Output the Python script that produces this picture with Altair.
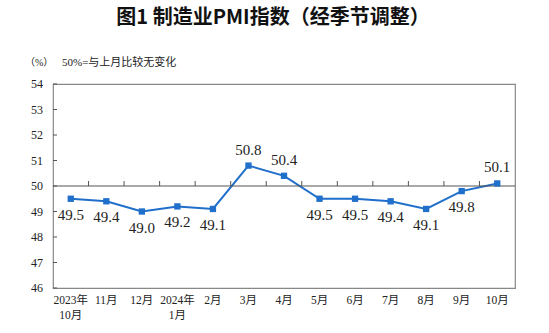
import altair as alt
import pandas as pd

categories = ["2023年\n10月", "11月", "12月", "2024年\n1月", "2月", "3月", "4月",
              "5月", "6月", "7月", "8月", "9月", "10月"]
pmi = [49.5, 49.4, 49.0, 49.2, 49.1, 50.8, 50.4, 49.5, 49.5, 49.4, 49.1, 49.8, 50.1]
y_ticks = [46, 47, 48, 49, 50, 51, 52, 53, 54]
ref_value = 50
title_text = "图1  制造业PMI指数（经季节调整）"
unit_text = "（%）"
note_text = "50%=与上月比较无变化"

keys = [f"k{i:02d}" for i in range(len(categories))]
df = pd.DataFrame({"cat": keys, "v": pmi, "lab": [f"{x:.1f}" for x in pmi]})
tick_df = pd.DataFrame({"cat": keys[1:], "v": [ref_value] * (len(keys) - 1)})
ytick_df = pd.DataFrame({"v": y_ticks, "t": [str(t) for t in y_ticks]})
ref_df = pd.DataFrame({"v": [ref_value]})

arr = "[" + ",".join("'" + c.replace("\n", "\\n") + "'" for c in categories) + "]"
label_expr = f"split({arr}[toNumber(substring(datum.value, 1))], '\\n')"

BLUE = "#1f6fcb"
SERIF = "Liberation Serif, Noto Sans CJK SC"

x_axis = alt.Axis(title=None, labelAngle=0, domain=False, ticks=False,
                  labelExpr=label_expr, labelOverlap=False,
                  labelFont=SERIF, labelFontSize=11.5, labelColor="#222",
                  labelPadding=6, labelLineHeight=15)
x_scale = alt.Scale(paddingInner=0, paddingOuter=0)
x_enc = alt.X("cat:N", sort=keys, scale=x_scale, axis=x_axis)
y_scale = alt.Scale(domain=[46, 54], nice=False, zero=False)
y_axis = alt.Axis(title=None, values=y_ticks, grid=False, domain=False, ticks=False,
                  labels=False)
y_enc = alt.Y("v:Q", scale=y_scale, axis=y_axis)

base = alt.Chart(df)

line = base.mark_line(color=BLUE, strokeWidth=2).encode(x=x_enc, y=y_enc)
pts = base.mark_square(color=BLUE, size=40, opacity=1).encode(x=x_enc, y=y_enc)

ref = alt.Chart(ref_df).mark_rule(color="#555", strokeWidth=1.2).encode(y=y_enc)

ticks50 = alt.Chart(tick_df).mark_rule(color="#555", strokeWidth=1, y2Offset=-5).encode(
    x=alt.X("cat:N", sort=keys, scale=x_scale, axis=x_axis, bandPosition=0),
    y=y_enc, y2=alt.Y2("v"))

yticks = alt.Chart(ytick_df).mark_rule(color="#555", strokeWidth=1).encode(
    y=y_enc, x=alt.value(0), x2=alt.value(4))
ylabels = alt.Chart(ytick_df).mark_text(font=SERIF, fontSize=12, color="#222",
                                        align="right", baseline="middle").encode(
    y=y_enc, x=alt.value(-10), text="t:N")

lab_below = base.transform_filter("datum.v < 50").mark_text(
    baseline="top", dy=9, font=SERIF, fontSize=15, color="#222").encode(
    x=x_enc, y=y_enc, text="lab:N")
lab_above = base.transform_filter("datum.v >= 50").mark_text(
    baseline="bottom", dy=-8, font=SERIF, fontSize=15, color="#222").encode(
    x=x_enc, y=y_enc, text="lab:N")

one = pd.DataFrame({"a": [0]})
title = alt.Chart(one).mark_text(font="Noto Sans CJK SC", fontSize=20, fontWeight="bold",
                                 color="#111", align="center", baseline="middle").encode(
    x=alt.value(220), y=alt.value(-66), text=alt.value(title_text))
unit = alt.Chart(one).mark_text(font=SERIF, fontSize=10, color="#222", align="left",
                                baseline="middle").encode(
    x=alt.value(-28), y=alt.value(-21), text=alt.value(unit_text))
note = alt.Chart(one).mark_text(font=SERIF, fontSize=11, color="#222", align="left",
                                baseline="middle").encode(
    x=alt.value(9), y=alt.value(-21), text=alt.value(note_text))

chart = alt.layer(line, ref, ticks50, yticks, ylabels, pts, lab_below, lab_above,
                  title, unit, note).properties(
    width=462, height=204,
    autosize=alt.AutoSizeParams(type="none"),
    padding={"left": 53, "top": 84, "right": 34, "bottom": 45},
    background="white",
).configure_view(stroke="#888", strokeWidth=1.2)

chart.save("out.html", embed_options={"renderer": "svg", "actions": False})
